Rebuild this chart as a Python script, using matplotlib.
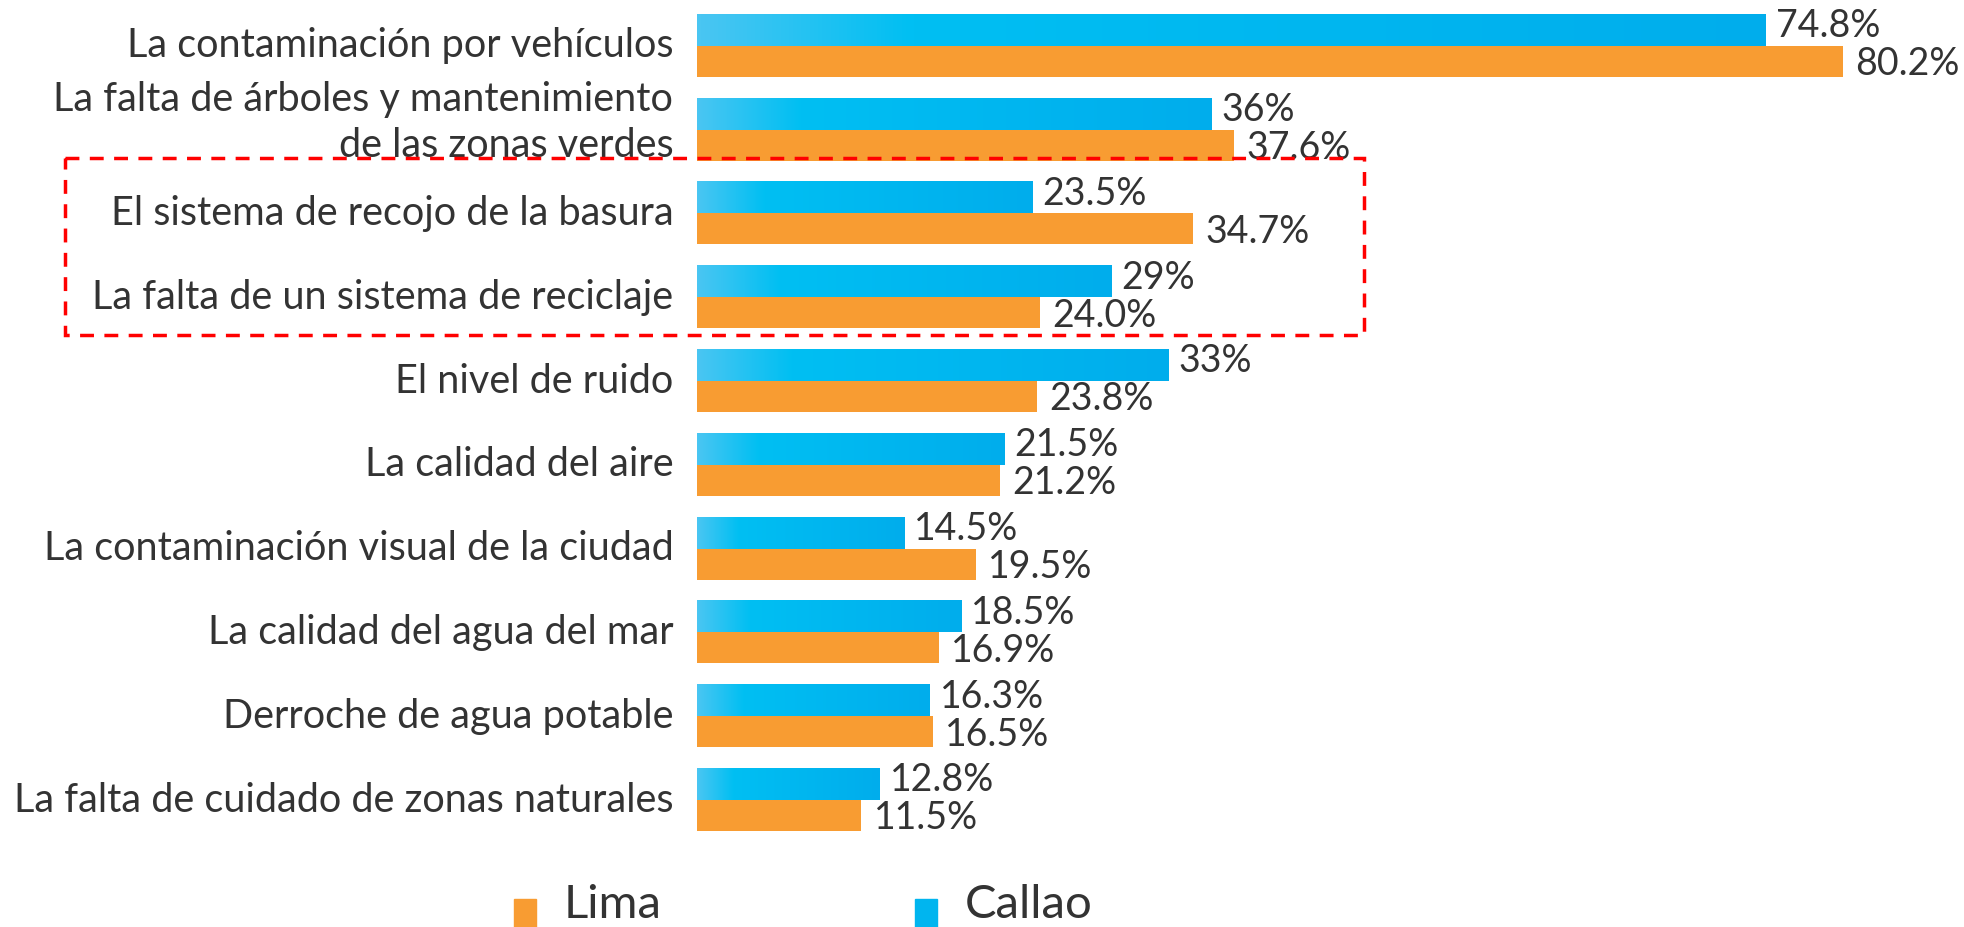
import numpy as np
import matplotlib
matplotlib.use("Agg")
import matplotlib.pyplot as plt
from matplotlib.colors import LinearSegmentedColormap
from matplotlib.patches import Rectangle
from matplotlib.transforms import blended_transform_factory

# data
categories = [
    "La contaminación por vehículos",
    "La falta de árboles y mantenimiento\nde las zonas verdes",
    "El sistema de recojo de la basura",
    "La falta de un sistema de reciclaje",
    "El nivel de ruido",
    "La calidad del aire",
    "La contaminación visual de la ciudad",
    "La calidad del agua del mar",
    "Derroche de agua potable",
    "La falta de cuidado de zonas naturales",
]
callao = [74.8, 36, 23.5, 29, 33, 21.5, 14.5, 18.5, 16.3, 12.8]
lima = [80.2, 37.6, 34.7, 24.0, 23.8, 21.2, 19.5, 16.9, 16.5, 11.5]
callao_txt = ["74.8%", "36%", "23.5%", "29%", "33%", "21.5%", "14.5%", "18.5%", "16.3%", "12.8%"]
lima_txt = ["80.2%", "37.6%", "34.7%", "24.0%", "23.8%", "21.2%", "19.5%", "16.9%", "16.5%", "11.5%"]

orange = "#f89c32"
blue_cmap = LinearSegmentedColormap.from_list(
    "callao", [(0, "#4ac6f2"), (0.2, "#00bff3"), (1, "#00adec")])
txt_color = "#333333"
font = "Lato"

fig = plt.figure(figsize=(19.65, 9.27), dpi=100)
ax = fig.add_axes([0.3547, 0.0917, 0.64, 0.904])
ax.set_xlim(0, 88)
ax.set_ylim(len(categories) - 0.5, -0.5)
ax.axis("off")

h = 0.37
y = np.arange(len(categories))
grad = np.linspace(0, 1, 256).reshape(1, -1)
for i in y:
    # callao bar with gradient (upper), lima bar (lower)
    ax.imshow(grad, cmap=blue_cmap, aspect="auto",
              extent=(0, callao[i], i, i - h), zorder=2)
    ax.barh(i + h / 2, lima[i], height=h, color=orange, zorder=2)
    ax.annotate(callao_txt[i], (callao[i], i - h / 2), xytext=(7, 3),
                textcoords="offset points", va="center", ha="left",
                fontsize=27, color=txt_color, family=font)
    ax.annotate(lima_txt[i], (lima[i], i + h / 2), xytext=(9, -2),
                textcoords="offset points", va="center", ha="left",
                fontsize=27, color=txt_color, family=font)
    ax.annotate(categories[i], (0, i), xytext=(-17, 0 if "\n" not in categories[i] else 5),
                textcoords="offset points", va="center", ha="right",
                fontsize=28.5, color=txt_color, family=font,
                linespacing=1.3, annotation_clip=False)

# highlight box around rows 3 and 4
tr = blended_transform_factory(fig.transFigure, ax.transData)
ax.add_patch(Rectangle((0.033, 1.335), 0.661, 2.12, transform=tr, fill=False,
                       edgecolor="red", linestyle=(0, (4, 3)), linewidth=2.5,
                       clip_on=False, zorder=3))

# legend
fig.patches.append(Rectangle((0.2615, 0.0), 0.0115, 0.03, color=orange,
                             transform=fig.transFigure))
fig.text(0.287, 0.001, "Lima", fontsize=34, color=txt_color, family=font, va="bottom")
fig.patches.append(Rectangle((0.4655, 0.0), 0.0115, 0.03, color="#00b5ef",
                             transform=fig.transFigure))
fig.text(0.491, 0.001, "Callao", fontsize=34, color=txt_color, family=font, va="bottom")

fig.savefig("out.png")
